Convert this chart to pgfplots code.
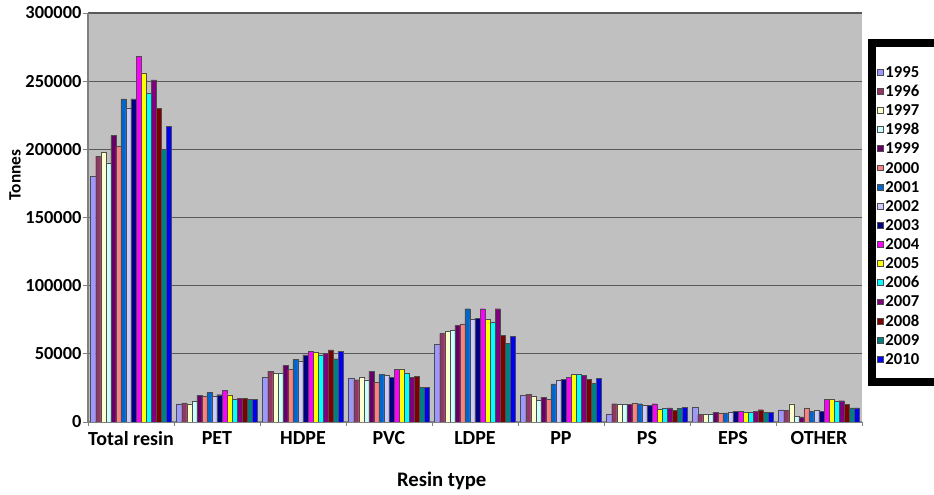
\documentclass[border=0pt]{standalone}
\usepackage{pgfplots}
\usepackage{pgfplotstable}
\pgfplotsset{compat=1.18}
\usepackage{fontspec}
\setmainfont{Carlito}

% classic spreadsheet series palette
\definecolor{c1995}{HTML}{9999FF}
\definecolor{c1996}{HTML}{993366}
\definecolor{c1997}{HTML}{FFFFCC}
\definecolor{c1998}{HTML}{CCFFFF}
\definecolor{c1999}{HTML}{660066}
\definecolor{c2000}{HTML}{FF8080}
\definecolor{c2001}{HTML}{0066CC}
\definecolor{c2002}{HTML}{CCCCFF}
\definecolor{c2003}{HTML}{000080}
\definecolor{c2004}{HTML}{FF00FF}
\definecolor{c2005}{HTML}{FFFF00}
\definecolor{c2006}{HTML}{00FFFF}
\definecolor{c2007}{HTML}{800080}
\definecolor{c2008}{HTML}{800000}
\definecolor{c2009}{HTML}{008080}
\definecolor{c2010}{HTML}{0000FF}
\definecolor{plotgray}{HTML}{C0C0C0}
\definecolor{axisgray}{HTML}{808080}

% tonnes by resin type (rows) and year (columns)
\pgfplotstableread{
idx y1995  y1996  y1997  y1998  y1999  y2000  y2001  y2002  y2003  y2004  y2005  y2006  y2007  y2008  y2009  y2010
0   180000 195000 198000 190000 210000 202000 237000 230000 237000 268000 256000 241000 251000 230000 200000 217000
1   13400  14000  13400  15100  19500  18800  21800  18800  20000  23000  20000  16900  17100  17400  16400  16400
2   32600  37400  35500  36000  41300  38600  45900  44700  49300  51900  51200  49300  50500  52900  46400  51900
3   32300  31000  33000  31000  37200  29100  34700  34000  33000  38400  38900  35900  32800  33500  25400  25400
4   56700  64800  66500  67200  70700  71900  83100  75500  75800  83100  75500  73400  83100  63300  57900  62800
5   19800  20300  18800  15900  18300  16400  27900  30600  31500  32800  34700  34700  34200  31500  28600  31800
6   5900   13400  12700  13000  13000  13900  13400  12200  12000  13400  9500   9800   10300  8300   10000  10800
7   11000  5400   5400   5900   7100   6100   6600   7100   7800   7800   7300   7300   7800   9000   7100   7100
8   9000   8600   13400  4200   3700   10300  7800   8600   7800   16400  16900  15200  15600  13200  10300  10300
}\resin

\begin{document}
\begin{tikzpicture}
\begin{axis}[
  at={(0pt,0pt)}, anchor=south west,
  scale only axis, width=580.5pt, height=306.75pt,
  ybar=0pt, bar width=0.0586,
  xmin=-0.5, xmax=8.5, ymin=0, ymax=300000,
  axis background/.style={fill=plotgray},
  axis lines*=left,
  axis line style={-, draw=axisgray, line width=0.8pt},
  tick align=outside,
  xtick={0,...,8},
  xticklabels={Total resin,PET,HDPE,PVC,LDPE,PP,PS,EPS,OTHER},
  minor xtick={-0.5,0.5,...,8.5},
  major x tick style={draw=none},
  minor x tick style={draw=axisgray, line width=0.6pt},
  minor tick length=3pt,
  ytick={0,50000,100000,150000,200000,250000,300000},
  yticklabels={0,50000,100000,150000,200000,250000,300000},
  major tick length=3.75pt,
  y tick style={draw=axisgray, line width=0.6pt},
  scaled y ticks=false,
  yticklabel style={font=\bfseries\fontsize{13.8}{14}\selectfont, inner sep=1pt},
  xticklabel style={font=\bfseries\fontsize{15}{16}\selectfont},
  ymajorgrids,
  major y grid style={draw=black!65, line width=0.8pt},
  every axis plot/.append style={draw=black!70, line width=0.3pt},
  legend image code/.code={\draw[#1] (0pt,-2.2pt) rectangle (4.5pt,2.2pt);},
  legend style={draw=none, fill=none, at={(1.0194,0.8687)}, anchor=north west,
    inner sep=0pt, outer sep=0pt, row sep=6.35pt, column sep=1.5pt,
    font=\bfseries\fontsize{12.5}{12.5}\selectfont,
    nodes={inner sep=0pt, text height=8pt, text depth=0pt}},
  legend cell align=left,
]
\addplot[fill=c1995] table[x=idx,y=y1995]{\resin};
\addplot[fill=c1996] table[x=idx,y=y1996]{\resin};
\addplot[fill=c1997] table[x=idx,y=y1997]{\resin};
\addplot[fill=c1998] table[x=idx,y=y1998]{\resin};
\addplot[fill=c1999] table[x=idx,y=y1999]{\resin};
\addplot[fill=c2000] table[x=idx,y=y2000]{\resin};
\addplot[fill=c2001] table[x=idx,y=y2001]{\resin};
\addplot[fill=c2002] table[x=idx,y=y2002]{\resin};
\addplot[fill=c2003] table[x=idx,y=y2003]{\resin};
\addplot[fill=c2004] table[x=idx,y=y2004]{\resin};
\addplot[fill=c2005] table[x=idx,y=y2005]{\resin};
\addplot[fill=c2006] table[x=idx,y=y2006]{\resin};
\addplot[fill=c2007] table[x=idx,y=y2007]{\resin};
\addplot[fill=c2008] table[x=idx,y=y2008]{\resin};
\addplot[fill=c2009] table[x=idx,y=y2009]{\resin};
\addplot[fill=c2010] table[x=idx,y=y2010]{\resin};
\legend{1995,1996,1997,1998,1999,2000,2001,2002,2003,2004,2005,2006,2007,2008,2009,2010}
\end{axis}
% axis titles
\node[rotate=90, font=\bfseries\fontsize{13}{14}\selectfont] at (-54.75pt,185.25pt) {Tonnes};
\node[font=\bfseries\fontsize{15.5}{16}\selectfont] at (265.3pt,-44.25pt) {Resin type};
% heavy frame round the legend
\draw[line width=6pt] (588pt,283.9pt) rectangle (700pt,30pt);
\pgfresetboundingbox
\path[use as bounding box] (-66pt,-54.75pt) rectangle (634.5pt,316.5pt);
\end{tikzpicture}
\end{document}
